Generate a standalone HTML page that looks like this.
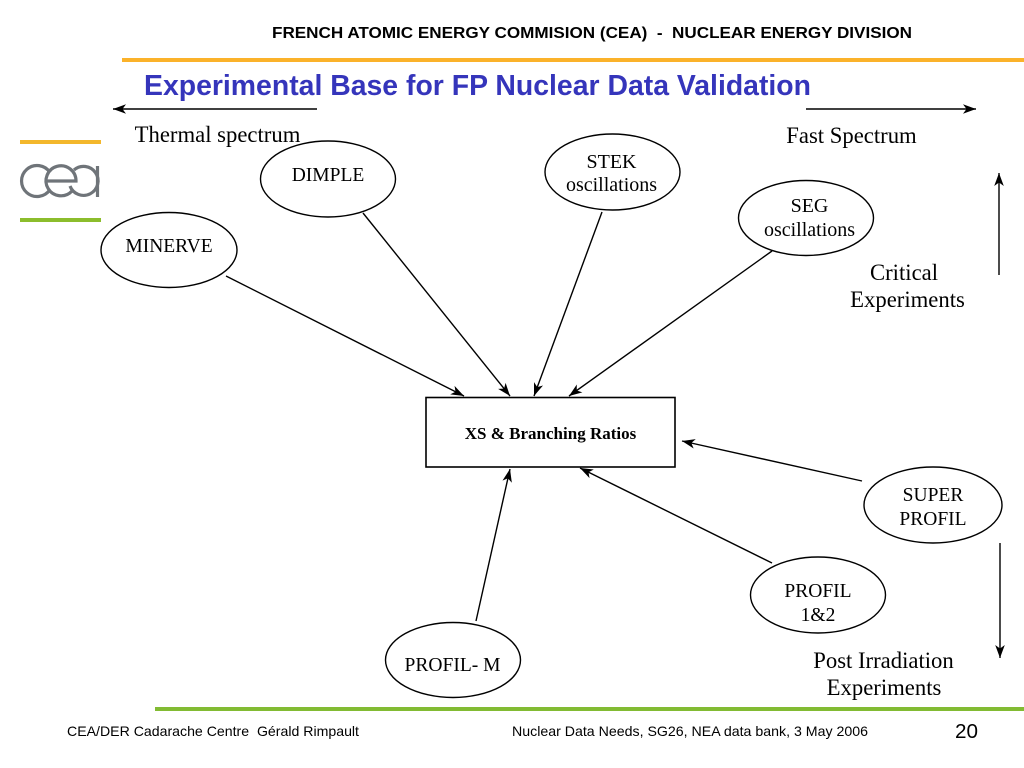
<!DOCTYPE html>
<html><head><meta charset="utf-8"><style>
html,body{margin:0;padding:0;background:#fff}
svg{display:block}
.s{font-family:"Liberation Serif",serif;fill:#000}
.a{font-family:"Liberation Sans",sans-serif}
</style></head><body>
<svg width="1024" height="768" viewBox="0 0 1024 768" xmlns="http://www.w3.org/2000/svg">
<defs>
<marker id="h" markerUnits="userSpaceOnUse" markerWidth="16" markerHeight="12" refX="14" refY="6" orient="auto">
<path d="M14,6 L1,1.2 L4.5,6 L1,10.8 Z" fill="#000"/>
</marker>
</defs>
<rect width="1024" height="768" fill="#fff"/>
<text class="a" x="272" y="38" font-size="16" font-weight="bold" textLength="640" lengthAdjust="spacingAndGlyphs" xml:space="preserve">FRENCH ATOMIC ENERGY COMMISION (CEA)  -  NUCLEAR ENERGY DIVISION</text>
<rect x="122" y="58" width="902" height="4" fill="#fbb22a"/>
<text class="a" x="144" y="95" font-size="29" font-weight="bold" fill="#3535bb" textLength="667" lengthAdjust="spacingAndGlyphs">Experimental Base for FP Nuclear Data Validation</text>

<rect x="20" y="140" width="81" height="4" fill="#f3b72c"/>
<rect x="20" y="218" width="81" height="4" fill="#8cbd2c"/>
<g fill="none" stroke="#6f7479" stroke-width="3.2">
<path d="M50,172.500 A15.500,15.500 0 1 0 50,189.500"/>
<path d="M46,181 H76 A15,15 0 1 0 72,191"/>
<path d="M74,170 A14.500,14.500 0 1 1 70,186"/>
<path d="M97.500,166 V197"/>
</g>

<g stroke="#000" stroke-width="1.4" fill="none">
<line x1="317" y1="109" x2="113" y2="109" marker-end="url(#h)"/>
<line x1="806" y1="109" x2="976" y2="109" marker-end="url(#h)"/>
<line x1="999" y1="275" x2="999" y2="173" marker-end="url(#h)"/>
<line x1="1000" y1="543" x2="1000" y2="658" marker-end="url(#h)"/>
<line x1="226" y1="276" x2="464" y2="396" marker-end="url(#h)"/>
<line x1="363" y1="213" x2="510" y2="396" marker-end="url(#h)"/>
<line x1="602" y1="212" x2="534" y2="396" marker-end="url(#h)"/>
<line x1="772" y1="251" x2="569" y2="396" marker-end="url(#h)"/>
<line x1="862" y1="481" x2="682" y2="441" marker-end="url(#h)"/>
<line x1="772" y1="563" x2="580" y2="468" marker-end="url(#h)"/>
<line x1="476" y1="621" x2="510" y2="469" marker-end="url(#h)"/>
<ellipse cx="169" cy="250" rx="68" ry="37.500"/>
<ellipse cx="328" cy="179" rx="67.500" ry="38"/>
<ellipse cx="612.500" cy="172" rx="67.500" ry="38"/>
<ellipse cx="806" cy="218" rx="67.500" ry="37.500"/>
<ellipse cx="933" cy="505" rx="69" ry="38"/>
<ellipse cx="818" cy="595" rx="67.500" ry="38"/>
<ellipse cx="453" cy="660" rx="67.500" ry="37.500"/>
<rect x="426" y="397.500" width="249" height="69.500" stroke-width="1.6"/>
</g>

<g class="s" text-anchor="middle" font-size="20">
<text x="169" y="252" class="s" font-size="19.500">MINERVE</text>
<text x="328" y="181" class="s" font-size="19.500">DIMPLE</text>
<text x="611.500" y="168" class="s">STEK</text>
<text x="611.500" y="191" class="s">oscillations</text>
<text x="809.500" y="212" class="s">SEG</text>
<text x="809.500" y="236" class="s">oscillations</text>
<text x="933" y="501" class="s" font-size="19.500">SUPER</text>
<text x="933" y="525" class="s" font-size="19.500">PROFIL</text>
<text x="818" y="597" class="s" font-size="19.500">PROFIL</text>
<text x="818" y="621" class="s" font-size="19.500">1&amp;2</text>
<text x="452.500" y="671" class="s" font-size="19.500">PROFIL- M</text>
<text x="550.500" y="439" class="s" font-size="17" font-weight="bold">XS &amp; Branching Ratios</text>
</g>
<g class="s" text-anchor="middle" font-size="22.700">
<text x="217.500" y="142" class="s">Thermal spectrum</text>
<text x="851.500" y="143" class="s">Fast Spectrum</text>
<text x="904" y="280" class="s">Critical</text>
<text x="907.500" y="307" class="s">Experiments</text>
<text x="883.500" y="668" class="s">Post Irradiation</text>
<text x="884" y="695" class="s">Experiments</text>
</g>

<rect x="155" y="707" width="869" height="4" fill="#82bb33"/>
<text class="a" x="67" y="736" font-size="14" textLength="292" lengthAdjust="spacingAndGlyphs" xml:space="preserve">CEA/DER Cadarache Centre  Gérald Rimpault</text>
<text class="a" x="512" y="736" font-size="14" textLength="356" lengthAdjust="spacingAndGlyphs">Nuclear Data Needs, SG26, NEA data bank, 3 May 2006</text>
<text class="a" x="955" y="738" font-size="20" textLength="23" lengthAdjust="spacingAndGlyphs">20</text>
</svg>
</body></html>
